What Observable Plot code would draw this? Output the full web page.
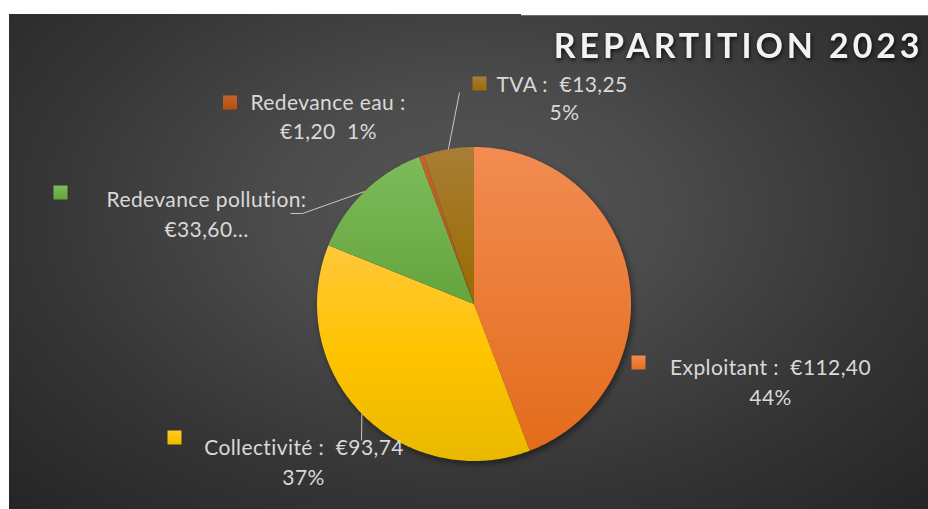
<!DOCTYPE html>
<html>
<head>
<meta charset="utf-8">
<script src="https://cdn.jsdelivr.net/npm/d3@7"></script>
<script src="https://cdn.jsdelivr.net/npm/@observablehq/plot@0.6"></script>
<style>
  html, body { margin: 0; padding: 0; background: #ffffff; }
  #wrap { position: relative; width: 928px; height: 509px; overflow: hidden; }
  #panel { position: absolute; left: 9px; top: 14px; width: 919px; height: 495px;
    background: radial-gradient(ellipse farthest-corner at 50% 40%, #575757 0%, #4b4b4b 30%, #363636 65%, #252525 100%); }
  #notch { position: absolute; left: 521px; top: 14px; width: 407px; height: 1px; background: #ffffff; }
  #notchline { position: absolute; left: 521px; top: 15px; width: 407px; height: 1px; background: #6e6e6e; }
  #chart { position: absolute; left: 0; top: 0; }
  g[aria-description="pie"] { filter: drop-shadow(2px 3px 3px rgba(0,0,0,0.45)); }
  g[aria-description="title"] text { letter-spacing: 3.9px; filter: drop-shadow(1px 2px 2px rgba(0,0,0,0.75)); }
  g[aria-description="label"] text { letter-spacing: 0.4px; }
</style>
</head>
<body>
<svg width="0" height="0" style="position:absolute">
  <defs>
    <linearGradient id="gExp" x1="0" y1="0" x2="0" y2="1">
      <stop offset="0" stop-color="#F28C52"/><stop offset="1" stop-color="#E36C1B"/>
    </linearGradient>
    <linearGradient id="gCol" x1="0" y1="0" x2="0" y2="1">
      <stop offset="0" stop-color="#FFC83A"/><stop offset="0.5" stop-color="#FFC300"/><stop offset="1" stop-color="#E9B900"/>
    </linearGradient>
    <linearGradient id="gPol" x1="0" y1="0" x2="0" y2="1">
      <stop offset="0" stop-color="#7DBB5B"/><stop offset="1" stop-color="#64A43B"/>
    </linearGradient>
    <linearGradient id="gEau" x1="0" y1="0" x2="0" y2="1">
      <stop offset="0" stop-color="#C8622A"/><stop offset="1" stop-color="#B4500F"/>
    </linearGradient>
    <linearGradient id="gTva" x1="0" y1="0" x2="0" y2="1">
      <stop offset="0" stop-color="#A97D36"/><stop offset="1" stop-color="#996B00"/>
    </linearGradient>
  </defs>
</svg>
<div id="wrap">
  <div id="panel"></div>
  <div id="notch"></div>
  <div id="notchline"></div>
  <div id="chart"></div>
</div>
<script>
// ---- data ----
const categories = ["Exploitant", "Collectivité", "Redevance pollution", "Redevance eau", "TVA"];
const amounts = [112.40, 93.74, 33.60, 1.20, 13.25];
const firstLines = ["Exploitant :  €112,40", "Collectivité :  €93,74", "Redevance pollution:", "Redevance eau :", "TVA :  €13,25"];
const secondLines = ["44%", "37%", "€33,60…", "€1,20  1%", "5%"];
const title = "REPARTITION 2023";

// ---- styling / layout ----
const fills = ["url(#gExp)", "url(#gCol)", "url(#gPol)", "url(#gEau)", "url(#gTva)"];
const CX = 473.5, CY = 303.5, R = 157;           // pie placement in pixels
const toU = ([px, py]) => [(px - CX) / R, (CY - py) / R];
// label anchors in pixels: [line1 center, line2 center, legend square]
const labelLayout = {
  "Exploitant":          [[770, 368], [770, 398], [638, 362]],
  "Collectivité":        [[303.5, 448], [303, 478], [174, 437]],
  "Redevance pollution": [[206, 200], [206, 230], [60, 192]],
  "Redevance eau":       [[327.5, 103], [328, 132], [229.5, 102]],
  "TVA":                 [[561.5, 85], [564, 113], [479, 83]]
};
const leaderLayout = {
  "Collectivité": [[361, 440]],
  "Redevance pollution": [[302, 213], [290, 213]],
  "TVA": [[459, 92]]
};

const rows = categories.map((c, i) => ({category: c, amount: amounts[i], l1: firstLines[i], l2: secondLines[i]}));
const arcs = d3.pie().sort(null).value(d => d.amount)(rows);

// slice outlines (unit circle, y up, angle 0 at 12 o'clock, clockwise)
const slicePts = [];
for (const a of arcs) {
  const n = Math.max(2, Math.ceil((a.endAngle - a.startAngle) / (Math.PI / 180)));
  slicePts.push({category: a.data.category, x: 0, y: 0});
  for (let k = 0; k <= n; k++) {
    const t = a.startAngle + (a.endAngle - a.startAngle) * k / n;
    slicePts.push({category: a.data.category, x: Math.sin(t), y: Math.cos(t)});
  }
  slicePts.push({category: a.data.category, x: 0, y: 0});
}

// leader segments: from slice mid-angle on the rim to the label
const segs = [];
for (const a of arcs) {
  const pts = leaderLayout[a.data.category];
  if (!pts) continue;
  const m = (a.startAngle + a.endAngle) / 2;
  let prev = [Math.sin(m), Math.cos(m)];
  for (const p of pts) {
    const q = toU(p);
    segs.push({x1: prev[0], y1: prev[1], x2: q[0], y2: q[1]});
    prev = q;
  }
}

const lab1 = rows.map(r => { const [x, y] = toU(labelLayout[r.category][0]); return {...r, x, y}; });
const lab2 = rows.map(r => { const [x, y] = toU(labelLayout[r.category][1]); return {...r, x, y}; });
const sq = rows.map(r => { const [x, y] = toU(labelLayout[r.category][2]); return {...r, x, y}; });

const font = "Lato, 'Open Sans', sans-serif";
const chart = Plot.plot({
  width: 928, height: 509, margin: 0,
  style: {background: "transparent", overflow: "visible"},
  x: {domain: [-1, 1], range: [CX - R, CX + R], axis: null},
  y: {domain: [-1, 1], range: [CY + R, CY - R], axis: null},
  color: {domain: categories, range: fills},
  marks: [
    Plot.line(slicePts, {x: "x", y: "y", z: "category", fill: "category", stroke: "none", curve: "linear", ariaDescription: "pie"}),
    Plot.link(segs, {x1: "x1", y1: "y1", x2: "x2", y2: "y2", stroke: "#C8C8C8", strokeWidth: 1, curve: "linear"}),
    Plot.dot(sq, {x: "x", y: "y", symbol: "square", r: 7.9, fill: "category", stroke: "none"}),
    Plot.text(lab1, {x: "x", y: "y", text: "l1", fill: "#D9D9D9", fontSize: 21, fontFamily: font, textAnchor: "middle", ariaDescription: "label"}),
    Plot.text(lab2, {x: "x", y: "y", text: "l2", fill: "#D9D9D9", fontSize: 21, fontFamily: font, textAnchor: "middle", ariaDescription: "label"}),
    Plot.text([title], {frameAnchor: "top-right", dx: -5, dy: 33, text: d => d, fill: "#F2F2F2", fontSize: 34, fontWeight: "bold", fontFamily: font, textAnchor: "end", ariaDescription: "title"})
  ]
});
document.getElementById("chart").appendChild(chart);
</script>
</body>
</html>
